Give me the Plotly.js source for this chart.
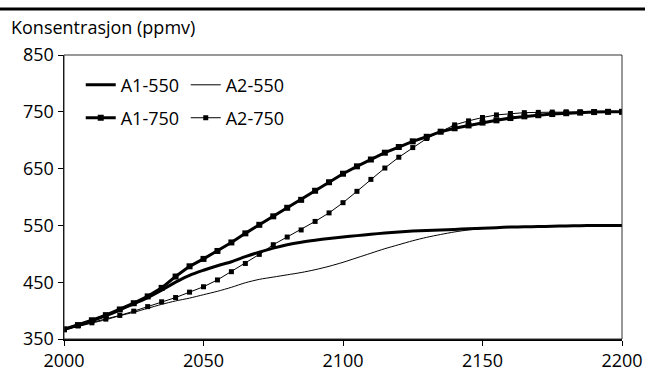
<!DOCTYPE html>
<html>
<head>
<meta charset="utf-8">
<script src="https://cdn.plot.ly/plotly-3.0.1.min.js"></script>
<style>html,body{margin:0;padding:0;background:#fff;}#chart{width:645px;height:385px;}</style>
</head>
<body>
<div id="chart"></div>
<script>
var years = [];
for (var y = 2000; y <= 2200; y += 5) years.push(y);

var a1_550 = [367,374,382,391,401,412,423,436,450,462,471,479,486,495,503,510,516,520.5,524,527,529.5,532,534.5,536.5,538.5,540,541,542,543,544,545,546,547,547.5,548,548.5,549,549.5,550,550,550];
var a2_550 = [367,372,378,384,391,397,404,411,417,422,428,434,441,449,455,459,463,467,472,478,485,493,501,509,516,523,529,534,538.5,542,544.5,546,547,547.5,548,548.5,549,549.5,550,550,550];
var a1_750 = [367,374.5,383,392,402,413,425,440,460,478,491,505,520,536,551,566,581,595,611,626,641,654,666,678,688,698,706,715,721,726,731,735,739,742,744,746,747.5,748.5,749.5,750,750];
var a2_750 = [367,373,378.5,385,391.5,399,407,415.5,423,432.5,442,454,468.5,483,499,516,529.5,542,557,572,590,610,631,651,670,687,703,715,727,734,740,744.5,747,748.5,749,749.5,750,750,750,750,750];

var seriesNames = ['A1-550','A2-550','A1-750','A2-750'];
var yTicks = [350,450,550,650,750,850];
var xTicks = [2000,2050,2100,2150,2200];
var yLabel = 'Konsentrasjon (ppmv)';

var FONT = 'Open Sans, sans-serif';
var FS = 18;

var traces = [
  {x: years, y: a1_550, name: seriesNames[0], mode: 'lines', line: {color: '#000', width: 3, shape: 'spline', smoothing: 0.8}, legend: 'legend'},
  {x: years, y: a2_550, name: seriesNames[1], mode: 'lines', line: {color: '#000', width: 1, shape: 'spline', smoothing: 0.8}, legend: 'legend'},
  {x: years, y: a1_750, name: seriesNames[2], mode: 'lines+markers', line: {color: '#000', width: 3}, marker: {symbol: 'square', size: 6, color: '#000'}, legend: 'legend2'},
  {x: years, y: a2_750, name: seriesNames[3], mode: 'lines+markers', line: {color: '#000', width: 1}, marker: {symbol: 'square', size: 5, color: '#000'}, legend: 'legend2'}
];

var legendBase = {
  orientation: 'h', xanchor: 'left', yanchor: 'middle', x: 0.03,
  font: {family: FONT, size: FS, color: '#000'},
  bgcolor: 'rgba(0,0,0,0)', borderwidth: 0,
  entrywidth: 60, entrywidthmode: 'pixels', traceorder: 'normal'
};
var leg1 = Object.assign({}, legendBase, {y: 0.894});
var leg2 = Object.assign({}, legendBase, {y: 0.778});

var layout = {
  width: 645, height: 385,
  margin: {l: 64, r: 23, t: 55, b: 46},
  paper_bgcolor: '#fff', plot_bgcolor: '#fff',
  font: {family: FONT, size: FS, color: '#000'},
  showlegend: true,
  legend: leg1,
  legend2: leg2,
  xaxis: {
    range: [2000, 2200], tickvals: xTicks, ticktext: xTicks.map(String),
    showgrid: false, zeroline: false, showline: true, linecolor: '#000', linewidth: 1.5,
    ticks: 'outside', ticklen: 5, tickwidth: 1, tickcolor: '#000',
    tickfont: {family: FONT, size: FS, color: '#000'}
  },
  yaxis: {
    range: [350, 850], tickvals: yTicks, ticktext: yTicks.map(String),
    showgrid: false, zeroline: false, showline: true, linecolor: '#000', linewidth: 1.5,
    ticks: 'outside', ticklen: 5, tickwidth: 1, tickcolor: '#000',
    tickfont: {family: FONT, size: FS, color: '#000'}
  },
  shapes: [
    {type: 'rect', xref: 'paper', yref: 'paper', x0: 0, x1: 1, y0: 0, y1: 1, line: {color: '#333', width: 1}},
    {type: 'line', xref: 'paper', yref: 'paper', x0: -0.2, x1: 1.1, y0: 1.162, y1: 1.162, line: {color: '#000', width: 3}}
  ],
  annotations: [
    {text: yLabel, xref: 'paper', yref: 'paper', x: -0.099, y: 1.0986, xanchor: 'left', yanchor: 'middle', showarrow: false, font: {family: FONT, size: FS, color: '#000'}}
  ]
};

Plotly.newPlot('chart', traces, layout, {displayModeBar: false, staticPlot: true});
</script>
</body>
</html>
